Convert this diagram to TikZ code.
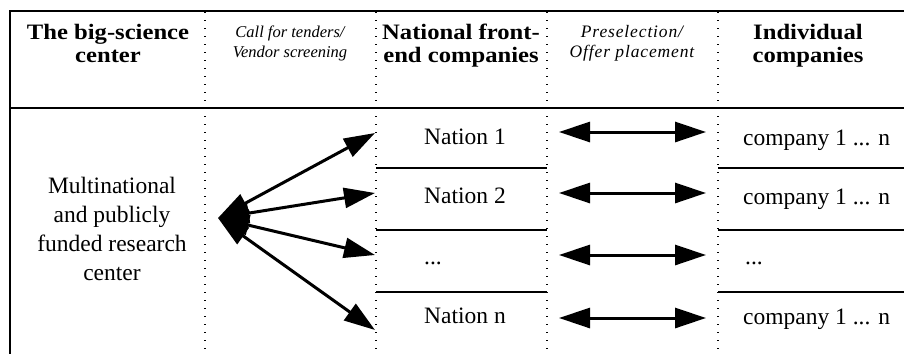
\documentclass[tikz,border=0pt]{standalone}
\usepackage{fontspec}
\setmainfont{Liberation Serif}
\newfontfamily\hdfont[FakeStretch=1.12]{Liberation Serif}
\newfontfamily\psfont[LetterSpace=5]{Liberation Serif}
\usetikzlibrary{arrows.meta}
\tikzset{
  frameline/.style={line width=2pt},
  sepline/.style={line width=1.6pt},
  dotline/.style={line width=1.4pt, dash pattern=on 1.4pt off 6.6pt},
  conn/.style={line width=3pt, {Triangle[length=31pt,width=20pt]}-{Triangle[length=31pt,width=20pt]}},
  hd/.style={font=\hdfont\bfseries\fontsize{22}{23}\selectfont, align=center, anchor=base, inner sep=0pt},
  ital/.style={font=\itshape\fontsize{16.5}{20}\selectfont, align=center, anchor=base, inner sep=0pt},
  itps/.style={font=\psfont\itshape\fontsize{17.5}{20}\selectfont, align=center, anchor=base, inner sep=0pt},
  body/.style={font=\fontsize{23.5}{29}\selectfont, anchor=base, inner sep=0pt},
}
\begin{document}
\begin{tikzpicture}[x=1pt,y=-1pt]
\useasboundingbox[fill=white] (0,0) rectangle (904,354);
% frame
\draw[frameline] (904,11) -- (10,11) -- (10,354);
\draw[frameline] (10,108) -- (904,108);
% dotted column lines
\foreach \xx in {205,376,547,718}{
  \draw[dotline] (\xx,12) -- (\xx,354);
}
% row separators
\foreach \yy in {168,230,292}{
  \draw[sepline] (376,\yy) -- (547,\yy);
  \draw[sepline] (718,\yy) -- (904,\yy);
}
% headers (anchor = baseline of last line)
\node[hd] (h1) at (108,62) {The big-science\\center};
\node[ital] (h2) at (290,57) {Call for tenders/\\Vendor screening};
\node[hd] (h3) at (461,62) {National front-\\end companies};
\node[itps] (h4) at (632,57) {Preselection/\\Offer placement};
\node[hd] (h5) at (808,62) {Individual\\companies};
% body
\node[body, align=center] (center) at (112,280) {Multinational\\and publicly\\funded research\\center};
\node[body, anchor=base west] (n1) at (424,144) {Nation 1};
\node[body, anchor=base west] (n2) at (424,203) {Nation 2};
\node[body, anchor=base west] (n3) at (424,264) {...};
\node[body, anchor=base west] (n4) at (424,323) {Nation n};
\node[body, anchor=base west] (c1) at (743,145) {company 1 ... n};
\node[body, anchor=base west] (c2) at (743,204) {company 1 ... n};
\node[body, anchor=base west] (c3) at (745,264) {...};
\node[body, anchor=base west] (c4) at (743,324) {company 1 ... n};
% fan arrows
\coordinate (hub) at (218,218);
\coordinate (t1) at (375,133);
\coordinate (t2) at (375,193);
\coordinate (t3) at (375,255);
\coordinate (t4) at (375,330);
\foreach \t in {t1,t2,t3,t4}{
  \draw[conn] (hub) -- (\t);
}
% preselection arrows
\foreach \i/\yy in {1/132,2/193,3/255,4/318}{
  \coordinate (pl\i) at (559,\yy);
  \coordinate (pr\i) at (706,\yy);
  \draw[conn] (pl\i) -- (pr\i);
}
\end{tikzpicture}
\end{document}
